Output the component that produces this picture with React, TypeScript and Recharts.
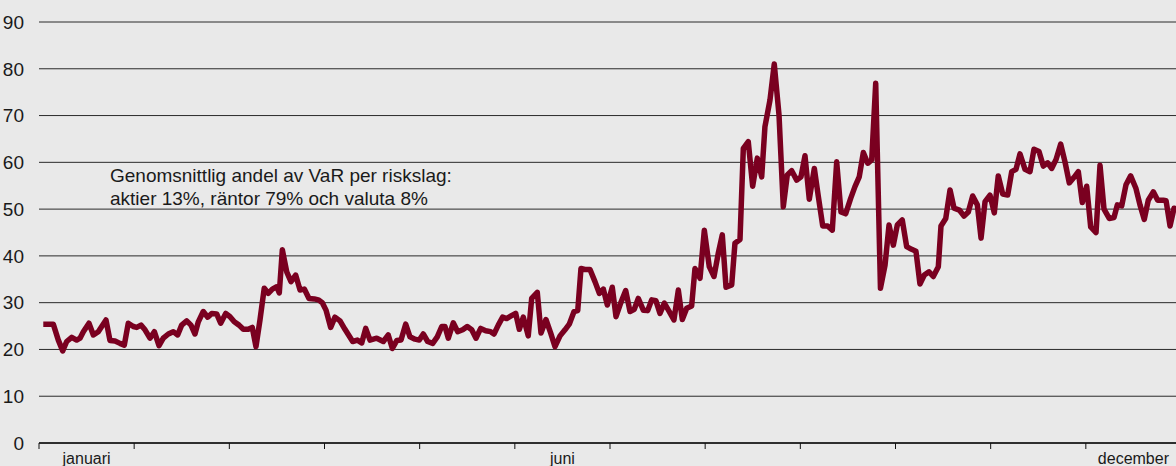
import React from 'react'
import { LineChart, Line, XAxis, YAxis, CartesianGrid } from 'recharts'

// ── Data (x in months from start of year, value = VaR index) ────────────────

const MONTHS = [
  'januari', 'februari', 'mars', 'april', 'maj', 'juni',
  'juli', 'augusti', 'september', 'oktober', 'november', 'december',
]
const SHOWN_MONTHS = ['januari', 'juni', 'december']

const Y_TICKS = [0, 10, 20, 30, 40, 50, 60, 70, 80, 90]

const tid = [
  0.045, 0.150, 0.203, 0.249, 0.291, 0.344, 0.396, 0.431, 0.466, 0.525,
  0.571, 0.623, 0.659, 0.704, 0.746, 0.799, 0.851, 0.896, 0.938, 0.991,
  1.027, 1.072, 1.114, 1.166, 1.212, 1.261, 1.306, 1.359, 1.411, 1.457,
  1.499, 1.552, 1.597, 1.639, 1.674, 1.726, 1.773, 1.815, 1.867, 1.909,
  1.962, 2.007, 2.052, 2.102, 2.147, 2.199, 2.241, 2.280, 2.322, 2.367,
  2.409, 2.452, 2.498, 2.525, 2.557, 2.603, 2.648, 2.697, 2.743, 2.788,
  2.837, 2.893, 2.935, 2.977, 3.016, 3.065, 3.110, 3.163, 3.215, 3.296,
  3.345, 3.391, 3.433, 3.478, 3.549, 3.618, 3.670, 3.713, 3.759, 3.804,
  3.853, 3.898, 3.951, 3.996, 4.038, 4.084, 4.137, 4.185, 4.232, 4.266,
  4.301, 4.353, 4.400, 4.452, 4.500, 4.547, 4.592, 4.641, 4.694, 4.746,
  4.781, 4.826, 4.872, 4.914, 4.956, 5.009, 5.047, 5.089, 5.141, 5.177,
  5.236, 5.275, 5.327, 5.377, 5.422, 5.475, 5.527, 5.572, 5.622, 5.661,
  5.695, 5.737, 5.790, 5.842, 5.888, 5.930, 5.972, 6.024, 6.063, 6.112,
  6.165, 6.210, 6.255, 6.297, 6.350, 6.396, 6.438, 6.483, 6.525, 6.571,
  6.623, 6.672, 6.718, 6.760, 6.806, 6.858, 6.893, 6.946, 6.991, 7.043,
  7.093, 7.138, 7.180, 7.219, 7.279, 7.313, 7.366, 7.401, 7.453, 7.499,
  7.548, 7.594, 7.628, 7.681, 7.726, 7.776, 7.821, 7.863, 7.909, 7.962,
  8.007, 8.049, 8.094, 8.147, 8.189, 8.235, 8.287, 8.336, 8.382, 8.427,
  8.476, 8.529, 8.574, 8.619, 8.662, 8.708, 8.750, 8.792, 8.842, 8.890,
  8.932, 8.977, 9.019, 9.071, 9.117, 9.170, 9.215, 9.257, 9.303, 9.352,
  9.397, 9.450, 9.478, 9.528, 9.573, 9.615, 9.671, 9.720, 9.765, 9.811,
  9.860, 9.899, 9.941, 9.993, 10.038, 10.080, 10.127, 10.179, 10.221, 10.266,
  10.308, 10.361, 10.413, 10.455, 10.508, 10.553, 10.599, 10.641, 10.687, 10.736,
  10.781, 10.826, 10.876, 10.921, 10.963, 11.009, 11.051, 11.107, 11.149, 11.191,
  11.246, 11.296, 11.331, 11.377, 11.422, 11.471, 11.527, 11.569, 11.614, 11.656,
  11.709, 11.755, 11.814, 11.843, 11.885, 11.927, 11.958,
]

const varAndel = [
  25.4, 25.4, 22.0, 19.7, 21.7, 22.6, 22.0, 22.4, 23.8, 25.6,
  23.1, 23.8, 24.9, 26.3, 21.9, 21.8, 21.3, 20.9, 25.6, 24.9,
  24.7, 25.2, 24.2, 22.4, 23.8, 20.8, 22.4, 23.3, 23.8, 23.1,
  25.2, 26.1, 25.2, 23.3, 25.9, 28.1, 26.9, 27.7, 27.6, 25.6,
  27.7, 27.0, 25.9, 25.2, 24.3, 24.3, 24.7, 20.6, 26.3, 33.1,
  32.0, 32.9, 33.4, 32.1, 41.3, 36.6, 34.5, 35.9, 32.7, 32.9,
  30.9, 30.8, 30.6, 30.0, 28.4, 24.7, 26.9, 26.1, 24.3, 21.7,
  22.0, 21.4, 24.5, 22.0, 22.4, 21.7, 23.1, 20.2, 21.9, 22.0,
  25.4, 22.7, 22.2, 22.0, 23.3, 21.7, 21.3, 22.7, 24.9, 24.9,
  22.4, 25.7, 23.8, 24.2, 24.9, 24.2, 22.4, 24.5, 24.0, 23.8,
  23.3, 25.2, 26.9, 26.6, 27.1, 27.7, 24.3, 26.9, 22.9, 30.9,
  32.2, 23.5, 26.4, 23.5, 20.6, 22.9, 24.2, 25.4, 28.1, 28.3,
  37.3, 37.1, 37.1, 34.5, 32.0, 32.9, 29.5, 33.3, 27.0, 29.9,
  32.6, 28.1, 28.6, 30.9, 28.4, 28.3, 30.6, 30.4, 27.7, 29.9,
  28.1, 26.3, 32.7, 26.4, 28.8, 29.3, 37.3, 35.2, 45.5, 37.7,
  35.6, 40.6, 44.5, 33.3, 33.8, 42.7, 43.5, 63.0, 64.4, 54.9,
  60.9, 56.9, 67.6, 73.3, 81.0, 70.1, 50.5, 57.3, 58.2, 56.2,
  56.9, 61.4, 52.1, 58.7, 52.7, 46.4, 46.4, 45.5, 60.1, 49.4,
  49.0, 52.3, 54.8, 56.9, 62.1, 59.8, 60.5, 76.9, 33.1, 38.0,
  46.6, 42.3, 46.6, 47.7, 42.0, 41.4, 41.0, 34.0, 35.9, 36.6,
  35.6, 37.7, 46.4, 48.0, 54.1, 50.2, 49.8, 48.5, 49.4, 52.8,
  50.9, 43.8, 51.6, 53.0, 49.2, 57.1, 53.2, 53.0, 58.0, 58.5,
  61.8, 58.5, 58.0, 62.8, 62.3, 59.2, 59.9, 58.7, 60.6, 63.9,
  60.1, 55.6, 56.8, 58.0, 51.4, 54.9, 46.2, 45.0, 59.4, 50.0,
  48.0, 48.2, 50.9, 50.7, 55.2, 57.1, 54.4, 50.9, 47.8, 51.9,
  53.7, 51.9, 51.9, 51.8, 46.4, 50.2, 50.0,
]

const ANNOTATION = [
  'Genomsnittlig andel av VaR per riskslag:',
  'aktier 13%, räntor 79% och valuta 8%',
]

// ── Styling ─────────────────────────────────────────────────────────────────

const BG = '#e9e9e9'
const LINE = '#7a0020'
const FONT = '"Liberation Sans", Arial, Helvetica, sans-serif'

const data = tid.map((t, i) => ({ t, v: varAndel[i] }))

// month boundaries get a tick mark, selected month centres get a label
const xTicks: number[] = []
for (let m = 0; m <= 12; m++) {
  xTicks.push(m)
  if (m < 12) xTicks.push(m + 0.5)
}

function MonthTick(props: any) {
  const { x, y, payload } = props
  const v = payload.value as number
  if (Number.isInteger(v)) {
    return <line x1={x} x2={x} y1={y} y2={y + 6} stroke="#111" strokeWidth={1} />
  }
  const name = MONTHS[Math.floor(v)]
  if (!SHOWN_MONTHS.includes(name)) return null
  return (
    <text x={x} y={y + 21} textAnchor="middle" fontSize={16} fill="#1a1a1a" fontFamily={FONT}>
      {name}
    </text>
  )
}

export default function App() {
  return (
    <div style={{
      position: 'absolute', left: 0, top: 0, width: 1176, height: 466,
      overflow: 'hidden', background: BG, fontFamily: FONT,
    }}>
      <LineChart width={1190} height={466} data={data}
        margin={{ top: 22, right: 9, left: 0, bottom: 0 }}>
        <CartesianGrid vertical={false} stroke="#2a2a2a" strokeWidth={1} />
        <XAxis dataKey="t" type="number" domain={[0, 12]} ticks={xTicks}
          interval={0} height={23} tickLine={false} tickSize={0} tickMargin={0}
          tick={<MonthTick />}
          axisLine={{ stroke: '#111', strokeWidth: 1.5 }} />
        <YAxis domain={[0, 90]} ticks={Y_TICKS} width={39} axisLine={false}
          tickLine={false} tickMargin={9} interval={0}
          tick={{ fontSize: 19, fill: '#1a1a1a', fontFamily: FONT }} />
        <Line type="linear" dataKey="v" stroke={LINE} strokeWidth={5.5}
          strokeLinejoin="round" dot={false} isAnimationActive={false} />
      </LineChart>
      <div style={{
        position: 'absolute', left: 110, top: 164, fontSize: 19,
        lineHeight: '23px', color: '#1a1a1a',
      }}>
        {ANNOTATION.map(l => <div key={l}>{l}</div>)}
      </div>
    </div>
  )
}
